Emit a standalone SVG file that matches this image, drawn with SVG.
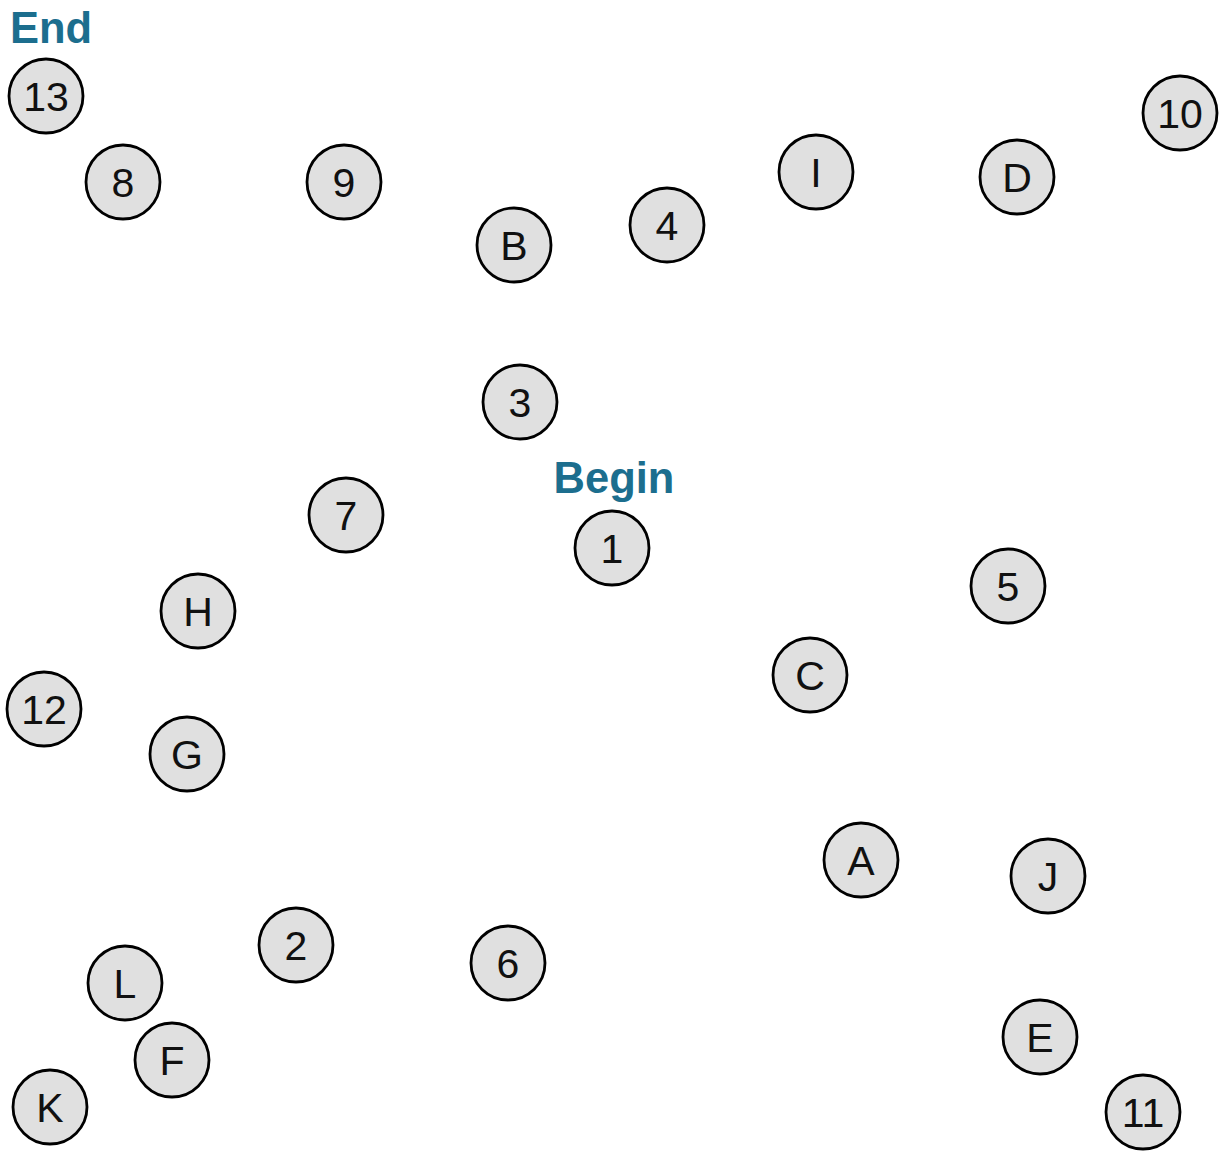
<svg xmlns="http://www.w3.org/2000/svg" width="1225" height="1162" viewBox="0 0 1225 1162">
<style>
.n circle{fill:#e0e0e0;stroke:#000;stroke-width:2.8}
.n text{font-family:"Liberation Sans",Arial,sans-serif;font-size:41px;fill:#111;text-anchor:middle}
.lbl{font-family:"Liberation Sans",Arial,sans-serif;font-size:43.5px;font-weight:bold;fill:#1c6e8e}
</style>
<rect width="1225" height="1162" fill="#fff"/>
<text class="lbl" x="10" y="43">End</text>
<text class="lbl" x="614" y="493" text-anchor="middle">Begin</text>
<g id="connectors"></g>
<g id="n13" class="n"><circle cx="46" cy="96" r="37"/><text x="46" y="111">13</text></g>
<g id="n8" class="n"><circle cx="123" cy="182" r="37"/><text x="123" y="197">8</text></g>
<g id="n9" class="n"><circle cx="344" cy="182" r="37"/><text x="344" y="197">9</text></g>
<g id="nB" class="n"><circle cx="514" cy="245" r="37"/><text x="514" y="260">B</text></g>
<g id="n4" class="n"><circle cx="667" cy="225" r="37"/><text x="667" y="240">4</text></g>
<g id="nI" class="n"><circle cx="816" cy="172" r="37"/><text x="816" y="187">I</text></g>
<g id="nD" class="n"><circle cx="1017" cy="177" r="37"/><text x="1017" y="192">D</text></g>
<g id="n10" class="n"><circle cx="1180" cy="113" r="37"/><text x="1180" y="128">10</text></g>
<g id="n3" class="n"><circle cx="520" cy="402" r="37"/><text x="520" y="417">3</text></g>
<g id="n1" class="n"><circle cx="612" cy="548" r="37"/><text x="612" y="563">1</text></g>
<g id="n7" class="n"><circle cx="346" cy="515" r="37"/><text x="346" y="530">7</text></g>
<g id="nH" class="n"><circle cx="198" cy="611" r="37"/><text x="198" y="626">H</text></g>
<g id="n5" class="n"><circle cx="1008" cy="586" r="37"/><text x="1008" y="601">5</text></g>
<g id="nC" class="n"><circle cx="810" cy="675" r="37"/><text x="810" y="690">C</text></g>
<g id="n12" class="n"><circle cx="44" cy="709" r="37"/><text x="44" y="724">12</text></g>
<g id="nG" class="n"><circle cx="187" cy="754" r="37"/><text x="187" y="769">G</text></g>
<g id="nA" class="n"><circle cx="861" cy="860" r="37"/><text x="861" y="875">A</text></g>
<g id="nJ" class="n"><circle cx="1048" cy="876" r="37"/><text x="1048" y="891">J</text></g>
<g id="n2" class="n"><circle cx="296" cy="945" r="37"/><text x="296" y="960">2</text></g>
<g id="n6" class="n"><circle cx="508" cy="963" r="37"/><text x="508" y="978">6</text></g>
<g id="nL" class="n"><circle cx="125" cy="983" r="37"/><text x="125" y="998">L</text></g>
<g id="nF" class="n"><circle cx="172" cy="1060" r="37"/><text x="172" y="1075">F</text></g>
<g id="nK" class="n"><circle cx="50" cy="1107" r="37"/><text x="50" y="1122">K</text></g>
<g id="nE" class="n"><circle cx="1040" cy="1037" r="37"/><text x="1040" y="1052">E</text></g>
<g id="n11" class="n"><circle cx="1143" cy="1112" r="37"/><text x="1143" y="1127">11</text></g>
</svg>
